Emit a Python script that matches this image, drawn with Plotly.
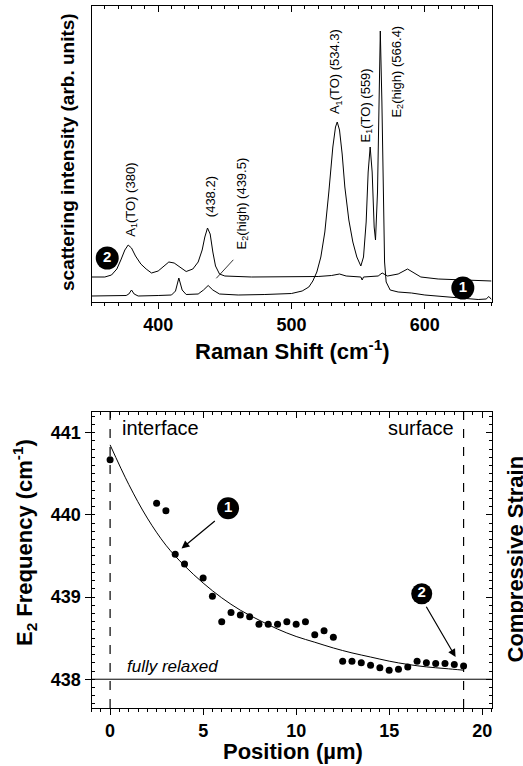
import plotly.graph_objects as go

W, H = 523, 766
FONT = "Liberation Sans, Arial, sans-serif"

# ---------------- data: Raman spectra (arb. units) ----------------
# spectrum 1 (lower trace, large A1/E1/E2 peaks)
spec1_shift = [350, 365, 376, 378, 380, 382, 385, 400, 410, 413, 415.5, 418, 421, 430, 434, 437.5,
               441, 446, 460, 480, 500, 508, 513, 516, 519, 522, 525, 528, 531, 533, 534.3, 536,
               538, 540, 543, 546, 549, 552, 554, 556, 557.5, 559, 560.5, 562, 563, 564.5, 565.5,
               566.6, 567.8, 568.8, 569.8, 571, 574, 580, 590, 600, 620, 640, 646, 648, 650]
spec1_int = [6, 6, 6.5, 8, 12, 8, 6, 6.5, 7, 11, 24, 12, 7.5, 8, 12, 16.5,
             12, 8, 7, 7.5, 8.5, 11, 15, 21, 30, 45, 70, 110, 155, 175, 180, 172,
             148, 115, 82, 60, 45, 36, 45, 80, 130, 155, 130, 75, 62, 110, 200,
             271, 200, 100, 40, 20, 12, 10, 9, 7, 4.5, 2.5, 3, 5.5, 2.5]

# spectrum 2 (upper trace)
spec2_shift = [350, 360, 365, 369, 372, 375, 377.5, 380, 383, 387, 391, 395, 400, 404, 408, 412,
               416, 421, 426, 430, 433, 435, 437, 439, 441, 443, 446, 450, 470, 500, 520, 530,
               536, 541, 552, 553, 554, 565, 568, 572, 580, 587, 592, 597, 610, 630, 650]
spec2_int = [25, 25, 27, 33, 42, 52, 57, 54, 46, 38, 33, 29, 31, 36, 40, 39,
             35, 30.5, 33, 40, 52, 65, 74, 68, 50, 36, 28, 26, 25, 25, 25.5, 26.5,
             28, 26, 25, 22, 25, 26, 29, 26, 28, 33, 29, 25, 23, 22, 21]

# ---------------- data: E2 frequency vs position ----------------
pos_um = [0, 2.5, 3, 3.5, 4, 5, 5.5, 6, 6.5, 7, 7.5, 8, 8.5, 9, 9.5, 10, 10.5, 11, 11.5, 12,
          12.5, 13, 13.5, 14, 14.5, 15, 15.5, 16, 16.5, 17, 17.5, 18, 18.5, 19]
e2_freq = [440.67, 440.14, 440.05, 439.52, 439.40, 439.23, 439.01, 438.70, 438.81, 438.78,
           438.76, 438.67, 438.67, 438.67, 438.70, 438.67, 438.70, 438.54, 438.59, 438.51,
           438.22, 438.22, 438.20, 438.17, 438.14, 438.11, 438.12, 438.15, 438.22, 438.20,
           438.19, 438.19, 438.18, 438.16]

# fitted curve
fit_pos = [0, 1, 2, 3, 4, 5, 6, 7, 8, 9, 10, 11, 12, 13, 14, 15, 16, 17, 18, 19]
fit_freq = [440.85, 440.37, 439.96, 439.63, 439.38, 439.17, 438.99, 438.84, 438.72, 438.61,
            438.52, 438.45, 438.38, 438.32, 438.27, 438.22, 438.18, 438.15, 438.13, 438.11]

relaxed_freq = 438.0
boundary_pos = [0, 19]     # interface, surface

# peak labels: (text, shift, label centre intensity)
peak_labels = [
    ("A<sub>1</sub>(TO) (380)", 379.4, 102),
    ("(438.2)", 439.0, 105),
    ("E<sub>2</sub>(high) (439.5)", 462.5, 98),
    ("A<sub>1</sub>(TO) (534.3)", 532.7, 230),
    ("E<sub>1</sub>(TO) (559)", 555.5, 196),
    ("E<sub>2</sub>(high) (566.4)", 578.8, 230),
]

# ---------------- layout helpers (pixel -> paper) ----------------
def fx(px):
    return px / W

def fy(py):
    return 1 - py / H

XDOM = [fx(91.5), fx(491.5)]
TOP_DOM = [fy(302), fy(6)]
BOT_DOM = [fy(708), fy(412)]

fig = go.Figure()

line_style = dict(color="black", width=1)
fig.add_trace(go.Scatter(x=spec2_shift, y=spec2_int, mode="lines", line=line_style,
                         xaxis="x", yaxis="y", showlegend=False, hoverinfo="skip"))
fig.add_trace(go.Scatter(x=spec1_shift, y=spec1_int, mode="lines", line=line_style,
                         xaxis="x", yaxis="y", showlegend=False, hoverinfo="skip"))

fig.add_trace(go.Scatter(x=fit_pos, y=fit_freq, mode="lines", line=dict(color="black", width=1, shape="spline"),
                         xaxis="x2", yaxis="y2", showlegend=False, hoverinfo="skip"))
fig.add_trace(go.Scatter(x=pos_um, y=e2_freq, mode="markers", marker=dict(color="black", size=7),
                         xaxis="x2", yaxis="y2", showlegend=False))

# dummy traces to register mirror axes
fig.add_trace(go.Scatter(x=[None], y=[None], xaxis="x3", yaxis="y", showlegend=False, hoverinfo="skip"))
fig.add_trace(go.Scatter(x=[None], y=[None], xaxis="x4", yaxis="y2", showlegend=False, hoverinfo="skip"))
fig.add_trace(go.Scatter(x=[None], y=[None], xaxis="x2", yaxis="y4", showlegend=False, hoverinfo="skip"))

# circled numbers
def circle(x, y, label, xa, ya, size=22):
    fig.add_trace(go.Scatter(x=[x], y=[y], mode="markers+text", text=[label],
                             textposition="middle center",
                             textfont=dict(color="white", size=15, family=FONT, weight="bold"),
                             marker=dict(color="black", size=size),
                             xaxis=xa, yaxis=ya, showlegend=False, hoverinfo="skip"))

circle(361.8, 44, "2", "x", "y", 23)
circle(628.5, 14, "1", "x", "y", 23)
circle(6.34, 440.08, "1", "x2", "y2", 22)
circle(16.75, 439.04, "2", "x2", "y2", 21)

tickfont = dict(family=FONT, size=18, color="black", weight="bold")
axcommon = dict(showgrid=False, zeroline=False, showline=True, linecolor="black", linewidth=1)

fig.update_layout(
    width=W, height=H,
    margin=dict(l=0, r=0, t=0, b=0),
    paper_bgcolor="white", plot_bgcolor="white",
    font=dict(family=FONT, color="black"),
    xaxis=dict(domain=XDOM, anchor="y", range=[350, 650], tickvals=[400, 500, 600],
               ticks="outside", ticklen=6, tickcolor="black", tickfont=tickfont, mirror=True,
               minor=dict(dtick=10, ticks="outside", ticklen=3, tickcolor="black"), **axcommon),
    yaxis=dict(domain=TOP_DOM, anchor="x", range=[0, 296], showticklabels=False, ticks="",
               mirror=True, **axcommon),
    xaxis3=dict(overlaying="x", side="top", anchor="y", range=[350, 650], tickvals=[400, 500, 600],
                ticks="inside", ticklen=6, tickcolor="black", showticklabels=False,
                minor=dict(dtick=10, ticks="inside", ticklen=3, tickcolor="black"),
                showgrid=False, zeroline=False, showline=False),
    xaxis2=dict(domain=XDOM, anchor="y2", range=[-1, 20.5], tickvals=[0, 5, 10, 15, 20],
                ticks="outside", ticklen=6, tickcolor="black", tickfont=tickfont, mirror=True,
                minor=dict(dtick=0.5, ticks="outside", ticklen=3, tickcolor="black"), **axcommon),
    yaxis2=dict(domain=BOT_DOM, anchor="x2", range=[437.65, 441.25], tickvals=[438, 439, 440, 441],
                ticks="outside", ticklen=6, tickcolor="black", tickfont=tickfont, mirror=True,
                minor=dict(dtick=0.1, ticks="inside", ticklen=3, tickcolor="black"), **axcommon),
    xaxis4=dict(overlaying="x2", side="top", anchor="y2", range=[-1, 20.5], tickvals=[0, 5, 10, 15, 20],
                ticks="inside", ticklen=6, tickcolor="black", showticklabels=False,
                minor=dict(dtick=0.5, ticks="inside", ticklen=3, tickcolor="black"),
                showgrid=False, zeroline=False, showline=False),
    yaxis4=dict(overlaying="y2", side="right", anchor="x2", range=[437.65, 441.25],
                tickvals=[438, 439, 440, 441], ticks="inside", ticklen=6, tickcolor="black",
                showticklabels=False,
                minor=dict(dtick=0.1, ticks="inside", ticklen=3, tickcolor="black"),
                showgrid=False, zeroline=False, showline=False),
)

ann = []
# peak labels (rotated)
for txt, xs, yc in peak_labels:
    ann.append(dict(text=txt, x=xs, y=yc, xref="x", yref="y", textangle=-90, showarrow=False,
                    xanchor="center", yanchor="middle",
                    font=dict(family=FONT, size=13, color="black")))
# line from E2(high)(439.5) label to peak
ann.append(dict(x=443.6, y=23.7, ax=457.4, ay=43.7, xref="x", yref="y", axref="x", ayref="y",
                text="", showarrow=True, arrowhead=0, arrowwidth=0.8, arrowcolor="black"))

# arrows in bottom panel
ann.append(dict(x=3.84, y=439.59, ax=5.71, ay=439.94, xref="x2", yref="y2", axref="x2", ayref="y2",
                text="", showarrow=True, arrowhead=2, arrowsize=1.3, arrowwidth=1.2, arrowcolor="black"))
ann.append(dict(x=18.57, y=438.27, ax=16.95, ay=438.9, xref="x2", yref="y2", axref="x2", ayref="y2",
                text="", showarrow=True, arrowhead=2, arrowsize=1.3, arrowwidth=1.2, arrowcolor="black"))

# text labels bottom panel
ann.append(dict(text="interface", x=0.54, y=441.06, xref="x2", yref="y2", xanchor="left",
                yanchor="middle", showarrow=False, font=dict(family=FONT, size=20, color="black")))
ann.append(dict(text="surface", x=18.6, y=441.06, xref="x2", yref="y2", xanchor="right",
                yanchor="middle", showarrow=False, font=dict(family=FONT, size=20, color="black")))
ann.append(dict(text="<i>fully relaxed</i>", x=0.8, y=438.16, xref="x2", yref="y2", xanchor="left",
                yanchor="middle", showarrow=False, font=dict(family=FONT, size=17, color="black")))

# axis titles
bold = dict(family=FONT, color="black", weight="bold")
def title(text, px, py, size, angle=0):
    ann.append(dict(text=text, x=fx(px), y=fy(py), xref="paper", yref="paper",
                    xanchor="center", yanchor="middle", textangle=angle,
                    showarrow=False, font=dict(size=size, **bold)))

title("scattering intensity (arb. units)", 67, 152, 19, -90)
title("Raman Shift (cm<sup>-1</sup>)", 292.5, 350, 22)
title("E<sub>2</sub> Frequency (cm<sup>-1</sup>)", 24, 543, 22, -90)
title("Position (µm)", 292.5, 751, 22)
title("Compressive Strain", 514.5, 559, 22, -90)
fig.update_layout(annotations=ann)

# reference lines in bottom panel
shapes = []
for b in boundary_pos:
    shapes.append(dict(type="line", xref="x2", yref="y2 domain", x0=b, x1=b, y0=0, y1=1,
                       line=dict(color="black", width=1.2, dash="dash")))
shapes.append(dict(type="line", xref="x2 domain", yref="y2", x0=0, x1=1, y0=relaxed_freq, y1=relaxed_freq,
                   line=dict(color="black", width=1)))
fig.update_layout(shapes=shapes)

fig.write_html("out.html")
